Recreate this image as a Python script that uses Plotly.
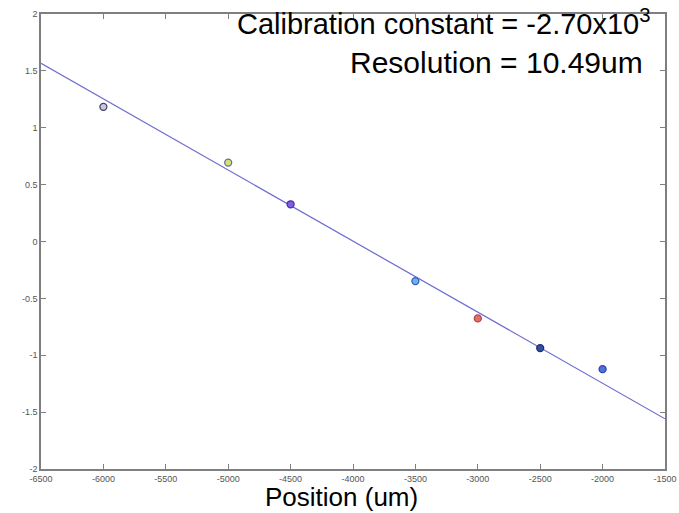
import plotly.graph_objects as go

# Measured detector response vs. stage position
position_um = [-6000, -5000, -4500, -3500, -3000, -2500, -2000]
signal = [1.184, 0.694, 0.327, -0.348, -0.676, -0.937, -1.122]
marker_fill = ["#c8c8d8", "#d8e070", "#8060e0", "#70b0e8", "#e07060", "#3050a0", "#5070e0"]
marker_edge = ["#404070", "#6070b0", "#4030b0", "#3060c0", "#b04050", "#203070", "#3040b0"]

# Linear fit evaluated at the axis limits
fit_x = [-6500, -1500]
fit_y = [1.566, -1.559]

x_ticks = [-6500, -6000, -5500, -5000, -4500, -4000, -3500, -3000, -2500, -2000, -1500]
y_ticks = [-2, -1.5, -1, -0.5, 0, 0.5, 1, 1.5, 2]

fig = go.Figure()
fig.add_trace(go.Scatter(
    x=fit_x, y=fit_y, mode="lines",
    line=dict(color="#6a6ad0", width=1.2),
    showlegend=False, hoverinfo="skip",
))
fig.add_trace(go.Scatter(
    x=position_um, y=signal, mode="markers",
    marker=dict(symbol="circle", size=7, color=marker_fill,
                line=dict(color=marker_edge, width=1.3)),
    showlegend=False,
))

axis_common = dict(
    automargin=False,
    showgrid=False, zeroline=False, showline=True, mirror="ticks",
    linecolor="#7f7f7f", linewidth=1.5,
    ticks="inside", ticklen=5, tickcolor="#7f7f7f", tickwidth=1,
    tickfont=dict(family="Liberation Sans Narrow, Arial Narrow, Liberation Sans, sans-serif",
                  size=9, color="#555555"),
)

fig.update_xaxes(range=[-6500, -1500], tickvals=x_ticks,
                 ticktext=[str(v) for v in x_ticks], **axis_common)
fig.update_yaxes(range=[-2, 2], tickvals=y_ticks,
                 ticktext=[f"{v:g}" for v in y_ticks], **axis_common)

fig.add_annotation(
    xref="paper", yref="paper", x=0.981, y=0.982, xanchor="right", yanchor="middle",
    text="Calibration constant = -2.70x10<sup>3</sup>", showarrow=False,
    font=dict(family="Liberation Sans, Arial, sans-serif", size=29, color="#000000"),
)
fig.add_annotation(
    xref="paper", yref="paper", x=0.968, y=0.893, xanchor="right", yanchor="middle",
    text="Resolution = 10.49um", showarrow=False,
    font=dict(family="Liberation Sans, Arial, sans-serif", size=30, color="#000000"),
)
fig.add_annotation(
    xref="paper", yref="paper", x=0.481, y=-0.0615, xanchor="center", yanchor="middle",
    text="Position (um)", showarrow=False,
    font=dict(family="Liberation Sans, Arial, sans-serif", size=26, color="#000000"),
)

fig.update_layout(
    template="none",
    width=679, height=513,
    margin=dict(l=41, r=14, t=14, b=44, autoexpand=False),
    paper_bgcolor="white", plot_bgcolor="white",
)

fig.write_html("out.html")
